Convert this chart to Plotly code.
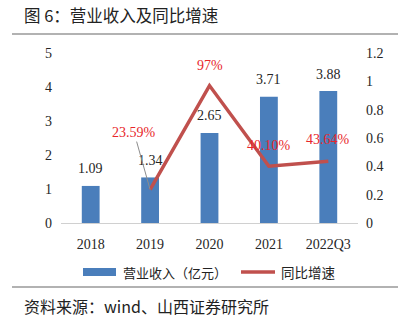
import plotly.graph_objects as go

categories = ["2018", "2019", "2020", "2021", "2022Q3"]
revenue = [1.09, 1.34, 2.65, 3.71, 3.88]
growth = [None, 0.2359, 0.97, 0.4010, 0.4364]
growth_labels = ["", "23.59%", "97%", "40.10%", "43.64%"]
left_ticks = [0, 1, 2, 3, 4, 5]
right_ticks = [0, 0.2, 0.4, 0.6, 0.8, 1, 1.2]

W, H = 410, 323
L, R, T, B = 61, 52, 53, 100
PW = W - L - R
PH = H - T - B

def px(x):
    return (x - L) / PW

def py(y):
    return (H - B - y) / PH

SERIF = "Liberation Serif"
CJK = "Noto Sans CJK SC"
BAR = "#4A7EBB"
LINE = "#C0504D"

xi = list(range(len(categories)))

fig = go.Figure()
fig.add_trace(go.Bar(x=xi, y=revenue, name="营业收入（亿元）",
                     marker=dict(color=BAR, line=dict(width=0)), width=0.30,
                     yaxis="y", showlegend=False))
fig.add_trace(go.Scatter(x=xi, y=growth, name="同比增速", mode="lines",
                         line=dict(color=LINE, width=3.5), yaxis="y2", showlegend=False))

ann = []
for i, v in zip(xi, revenue):
    ann.append(dict(x=i, y=v, xref="x", yref="y", text=f"{v:.2f}", showarrow=False,
                    yanchor="middle", yshift=17, font=dict(family=SERIF, size=14, color="#262626")))

offsets = {2: (0, 20), 3: (0, 21), 4: (0, 22)}
for i, g, t in zip(xi, growth, growth_labels):
    if g is None:
        continue
    if i == 1:
        ann.append(dict(x=i, y=g, xref="x", yref="y2", text=t, showarrow=True,
                        arrowhead=0, arrowwidth=1, arrowcolor="#8c8c8c", ax=-16, ay=-57,
                        standoff=0, startstandoff=0,
                        font=dict(family=SERIF, size=14, color="#E8262B")))
    else:
        dx, dy = offsets[i]
        ann.append(dict(x=i, y=g, xref="x", yref="y2", text=t, showarrow=False,
                        xshift=dx, yshift=dy, font=dict(family=SERIF, size=14, color="#E8262B")))

ann.append(dict(x=px(22), y=py(15), xref="paper", yref="paper", text="图 6：营业收入及同比增速",
                showarrow=False, xanchor="left", yanchor="middle",
                font=dict(family=CJK, size=16.5, color="#222")))
ann.append(dict(x=px(22), y=py(306), xref="paper", yref="paper", text="资料来源：wind、山西证券研究所",
                showarrow=False, xanchor="left", yanchor="middle",
                font=dict(family=CJK, size=16, color="#222")))
# legend texts
ann.append(dict(x=px(121), y=py(272), xref="paper", yref="paper", text="营业收入（亿元）",
                showarrow=False, xanchor="left", yanchor="middle",
                font=dict(family=CJK, size=13, color="#222")))
ann.append(dict(x=px(279), y=py(272), xref="paper", yref="paper", text="同比增速",
                showarrow=False, xanchor="left", yanchor="middle",
                font=dict(family=CJK, size=13.5, color="#222")))

shapes = [
    dict(type="line", xref="paper", yref="paper", x0=px(12), x1=px(398), y0=py(34), y1=py(34),
         line=dict(color="#666", width=1.2)),
    dict(type="line", xref="paper", yref="paper", x0=px(12), x1=px(398), y0=py(287), y1=py(287),
         line=dict(color="#666", width=1.2)),
    dict(type="rect", xref="paper", yref="paper", x0=px(83), x1=px(116), y0=py(276), y1=py(268),
         fillcolor=BAR, line=dict(width=0)),
    dict(type="line", xref="paper", yref="paper", x0=px(241), x1=px(275), y0=py(272), y1=py(272),
         line=dict(color=LINE, width=3.5)),
]

fig.update_layout(
    width=W, height=H, margin=dict(l=L, r=R, t=T, b=B),
    paper_bgcolor="white", plot_bgcolor="white",
    showlegend=False,
    xaxis=dict(range=[-0.5, 4.5], tickvals=xi, ticktext=categories, showline=True,
               linecolor="#d0d0d0", linewidth=1, ticks="", showgrid=False, zeroline=False,
               tickfont=dict(family=SERIF, size=14, color="#262626"), ticklabelstandoff=8),
    yaxis=dict(range=[0, 5], tickvals=left_ticks, showgrid=False, zeroline=False,
               tickfont=dict(family=SERIF, size=14, color="#262626"), ticklabelstandoff=8),
    yaxis2=dict(range=[0, 1.2], tickvals=right_ticks, overlaying="y", side="right",
                showgrid=False, zeroline=False,
                tickfont=dict(family=SERIF, size=14, color="#262626"), ticklabelstandoff=7),
    annotations=ann, shapes=shapes,
)

fig.write_html("out.html")
